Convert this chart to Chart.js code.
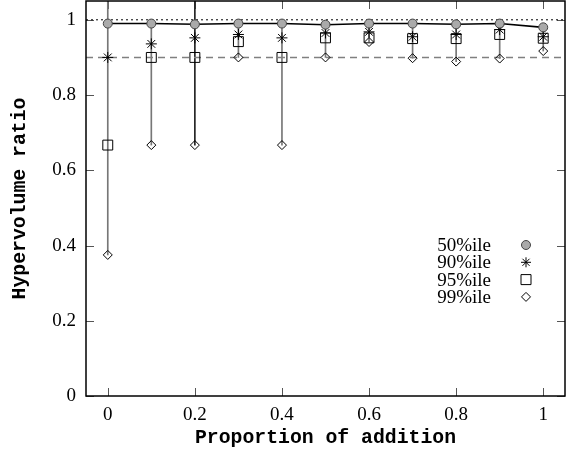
<!DOCTYPE html>
<html>
<head>
<meta charset="utf-8">
<script src="https://cdn.jsdelivr.net/npm/chart.js@4/dist/chart.umd.min.js"></script>
<style>
html,body{margin:0;padding:0;background:#fff;}
canvas{display:block;}
</style>
</head>
<body>
<canvas id="c" width="573" height="452"></canvas>
<script>
// ---- data ----
const xValues = [0, 0.1, 0.2, 0.3, 0.4, 0.5, 0.6, 0.7, 0.8, 0.9, 1.0];
const p50 = [0.990, 0.990, 0.988, 0.990, 0.990, 0.987, 0.990, 0.990, 0.988, 0.990, 0.980];
const p90 = [0.900, 0.936, 0.952, 0.961, 0.952, 0.965, 0.968, 0.955, 0.961, 0.974, 0.955];
const p95 = [0.667, 0.900, 0.900, 0.942, 0.900, 0.952, 0.952, 0.950, 0.950, 0.961, 0.951];
const p99 = [0.375, 0.667, 0.667, 0.900, 0.667, 0.900, 0.941, 0.898, 0.889, 0.897, 0.917];
const whiskerTop = [1.05, 0.990, 1.05, 0.990, 0.990, 0.987, 0.990, 0.990, 0.988, 0.990, 0.980];
const refUpper = 1.0;
const refLower = 0.9;
const xTicks = [0, 0.2, 0.4, 0.6, 0.8, 1];
const yTicks = [0, 0.2, 0.4, 0.6, 0.8, 1];
const seriesLabels = ['50%ile', '90%ile', '95%ile', '99%ile'];
const xMin = -0.05, xMax = 1.05, yMin = 0, yMax = 1.05;

const pts = arr => arr.map((v, i) => ({x: xValues[i], y: v}));

Chart.defaults.color = '#000';

const serif = '"Liberation Serif", "Times New Roman", serif';
const mono = '"Liberation Mono", "Courier New", monospace';

function drawSym(ctx, style, x, y) {
  ctx.save();
  ctx.lineWidth = 1;
  ctx.strokeStyle = '#000';
  ctx.beginPath();
  if (style === 'circle') {
    ctx.fillStyle = '#aaa';
    ctx.strokeStyle = '#444';
    ctx.arc(x, y, 4.5, 0, Math.PI * 2);
    ctx.fill(); ctx.stroke();
  } else if (style === 'star') {
    const r = 5;
    ctx.moveTo(x - r, y); ctx.lineTo(x + r, y);
    ctx.moveTo(x, y - r); ctx.lineTo(x, y + r);
    const d = r * Math.SQRT1_2;
    ctx.moveTo(x - d, y - d); ctx.lineTo(x + d, y + d);
    ctx.moveTo(x - d, y + d); ctx.lineTo(x + d, y - d);
    ctx.stroke();
  } else if (style === 'rect') {
    ctx.rect(x - 5, y - 5, 10, 10);
    ctx.stroke();
  } else if (style === 'rectRot') {
    const r = 4.5;
    ctx.moveTo(x, y - r); ctx.lineTo(x + r, y); ctx.lineTo(x, y + r); ctx.lineTo(x - r, y); ctx.closePath();
    ctx.stroke();
  }
  ctx.restore();
}

const framePlugin = {
  id: 'frame',
  beforeDatasetsDraw(chart) {
    const {ctx, chartArea: a, scales} = chart;
    ctx.save();
    ctx.strokeStyle = '#555';
    ctx.lineWidth = 1;
    const L = 8;
    ctx.beginPath();
    xTicks.forEach(v => {
      const px = Math.round(scales.x.getPixelForValue(v)) + 0.5;
      ctx.moveTo(px, a.bottom); ctx.lineTo(px, a.bottom - L);
      ctx.moveTo(px, a.top); ctx.lineTo(px, a.top + L);
    });
    yTicks.forEach(v => {
      const py = Math.round(scales.y.getPixelForValue(v)) + 0.5;
      ctx.moveTo(a.left, py); ctx.lineTo(a.left + L, py);
      ctx.moveTo(a.right, py); ctx.lineTo(a.right - L, py);
    });
    ctx.stroke();
    ctx.restore();
  },
  afterDraw(chart) {
    const {ctx, chartArea: a} = chart;
    ctx.save();
    ctx.strokeStyle = '#000';
    ctx.lineWidth = 1.5;
    ctx.strokeRect(a.left, a.top, a.right - a.left, a.bottom - a.top);
    // legend
    const styles = ['circle', 'star', 'rect', 'rectRot'];
    ctx.font = '19px ' + serif;
    ctx.fillStyle = '#000';
    ctx.textAlign = 'right';
    ctx.textBaseline = 'middle';
    const y0 = 245, dy = 17.3;
    seriesLabels.forEach((lab, i) => {
      const y = y0 + i * dy;
      ctx.fillText(lab, 491, y + 1);
      drawSym(ctx, styles[i], 526, y);
    });
    ctx.restore();
  }
};

new Chart(document.getElementById('c'), {
  data: {
    datasets: [
      {
        type: 'bar',
        data: xValues.map((x, i) => ({x: x, y: [p99[i], whiskerTop[i]]})),
        backgroundColor: xValues.map((x, i) => i === 2 ? '#222' : '#777'),
        barThickness: 1,
        borderWidth: 0,
        order: 10
      },
      {
        type: 'line',
        data: [{x: xMin, y: refUpper}, {x: xMax, y: refUpper}],
        borderColor: '#000', borderWidth: 1, borderDash: [2, 3],
        pointRadius: 0, order: 9
      },
      {
        type: 'line',
        data: [{x: xMin, y: refLower}, {x: xMax, y: refLower}],
        borderColor: '#808080', borderWidth: 1.5, borderDash: [7, 5],
        pointRadius: 0, order: 8
      },
      {
        type: 'line', label: seriesLabels[0],
        data: pts(p50),
        borderColor: '#000', borderWidth: 1.6,
        pointStyle: 'circle', pointRadius: 4.5,
        pointBackgroundColor: '#aaa', pointBorderColor: '#444', pointBorderWidth: 1,
        order: 1
      },
      {
        type: 'line', label: seriesLabels[1],
        data: pts(p90), showLine: false,
        pointStyle: 'star', pointRadius: 5.5,
        pointBorderColor: '#000', pointBorderWidth: 1,
        order: 2
      },
      {
        type: 'line', label: seriesLabels[2],
        data: pts(p95), showLine: false,
        pointStyle: 'rect', pointRadius: 7,
        pointBackgroundColor: 'rgba(0,0,0,0)', pointBorderColor: '#000', pointBorderWidth: 1,
        order: 3
      },
      {
        type: 'line', label: seriesLabels[3],
        data: pts(p99), showLine: false,
        pointStyle: 'rectRot', pointRadius: 4.5,
        pointBackgroundColor: 'rgba(0,0,0,0)', pointBorderColor: '#000', pointBorderWidth: 1,
        order: 4
      }
    ]
  },
  options: {
    responsive: false,
    animation: false,
    devicePixelRatio: 1,
    layout: {autoPadding: false, padding: {left: 0, right: 8, top: 1, bottom: 0}},
    plugins: {legend: {display: false}, tooltip: {enabled: false}},
    scales: {
      x: {
        type: 'linear', min: xMin, max: xMax, offset: false,
        afterBuildTicks: s => { s.ticks = xTicks.map(v => ({value: v})); },
        afterFit: s => { s.height = 56; s.paddingLeft = 0; s.paddingRight = 0; },
        grid: {display: false, drawTicks: false, offset: false},
        border: {display: false},
        ticks: {
          font: {family: serif, size: 19},
          padding: 8, maxRotation: 0,
          callback: v => String(Math.round(v * 10) / 10)
        },
        title: {
          display: true, text: 'Proportion of addition',
          font: {family: mono, size: 19.8, weight: 'bold'},
          padding: {top: 0, bottom: 2}
        }
      },
      y: {
        type: 'linear', min: yMin, max: yMax,
        afterBuildTicks: s => { s.ticks = yTicks.map(v => ({value: v})); },
        afterFit: s => { s.width = 86; s.paddingTop = 0; s.paddingBottom = 0; },
        grid: {display: false, drawTicks: false},
        border: {display: false},
        ticks: {
          font: {family: serif, size: 19},
          padding: 10,
          callback: v => String(Math.round(v * 10) / 10)
        },
        title: {
          display: true, text: 'Hypervolume ratio',
          font: {family: mono, size: 19.8, weight: 'bold'},
          padding: {top: 8, bottom: 0}
        }
      }
    }
  },
  plugins: [framePlugin]
});
</script>
</body>
</html>
